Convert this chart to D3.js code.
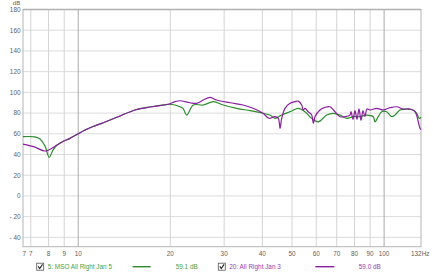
<!DOCTYPE html>
<meta charset="utf-8">
<head>
    <script src="https://cdn.jsdelivr.net/npm/d3@7"></script>
    <style>
        body { margin: 0; background: #fff; }
        text { font-family: "Liberation Sans", Arial, sans-serif; }
    </style>
</head>
<body>
<script>
    // Data
    const msoFreq = [6.6, 7.22, 7.5, 7.79, 8.04, 8.27, 8.53, 8.92, 9.4, 10.53, 10.93, 11.94, 13.52, 15.33, 17.39, 19.7,
        20.72, 21.52, 22.01, 22.63, 23.78, 25.64, 27.64, 29.8, 32.97, 36.45, 40.19, 42.36, 43.99, 46.26, 49.88,
        52.42, 55.13, 57.98, 60.93, 64.92, 68.22, 71.75, 75.46, 79.3, 83.4, 87.71, 92.17, 93.35, 95.7, 98.18,
        101.95, 105.86, 108.53, 112.69, 118.52, 124.56, 127.79, 130.31, 132];
    const msoDb = [57.2, 57.0, 54.9, 48.2, 37.3, 44.3, 49.2, 52.5, 55.6, 63.6, 65.9, 70.1, 76.5, 83.0, 86.1, 88.5,
        87.8, 86.1, 84.6, 78.1, 87.8, 87.8, 91.0, 87.8, 84.6, 82.3, 79.8, 78.1, 74.9, 78.1, 82.0,
        84.6, 81.3, 74.9, 71.6, 78.1, 79.8, 78.1, 74.9, 76.5, 76.5, 78.1, 76.5, 71.6, 76.5, 81.3,
        81.3, 76.5, 78.1, 83.0, 83.9, 83.0, 79.8, 74.9, 76.0];

    const jan3Freq = [6.6, 7.22, 7.79, 8.53, 8.92, 9.4, 10.53, 10.93, 11.94, 13.52, 15.33, 17.39, 19.7,
        20.72, 21.52, 23.2, 24.4, 25.64, 26.96, 28.36, 31.35, 34.58, 37.28, 40.19, 42.05, 43.99, 45.09, 45.68,
        46.26, 47.43, 49.25, 51.13, 52.42, 53.78, 54.43, 55.13, 56.51, 57.98, 58.68, 59.44, 61.71, 64.09,
        66.55, 69.1, 71.75, 74.5, 77.35, 77.94, 79.12, 80.32, 81.54, 82.77, 84.03, 85.3, 86.59, 87.9,
        89.91, 94.56, 99.37, 104.52, 109.92, 115.52, 121.51, 126.16, 129.34, 131.0, 132];
    const jan3Db = [50.1, 47.2, 43.4, 49.2, 52.5, 55.6, 63.6, 65.9, 70.1, 76.5, 83.0, 86.1, 88.5,
        91.0, 91.9, 90.0, 89.4, 92.6, 95.2, 92.6, 90.0, 87.8, 84.6, 79.8, 75.0, 76.5, 74.9, 65.3,
        74.9, 84.6, 89.4, 91.0, 91.6, 87.8, 83.0, 84.6, 81.3, 78.1, 70.1, 76.5, 83.0, 85.5,
        86.1, 81.3, 76.5, 76.5, 78.1, 81.5, 74.0, 82.5, 74.0, 84.0, 73.0, 82.5, 76.5, 84.0,
        83.0, 84.6, 83.0, 85.2, 86.1, 83.9, 83.9, 81.3, 71.6, 65.3, 64.0];

    const xTicks = [7, 8, 9, 10, 20, 30, 40, 50, 60, 70, 80, 90, 100];
    const xDecades = [10, 100];
    const yTicks = [-40, -20, 0, 20, 40, 60, 80, 100, 120, 140, 160, 180];

    const legendItems = [
        {name: "5: MSO All Right Jan 5", level: "59.1 dB", line: "#2c8c2c", text: "#45a045"},
        {name: "20: All Right Jan 3", level: "59.0 dB", line: "#8a1ea0", text: "#9a3aae"}
    ];

    const width = 433, height = 275;
    const plot = {left: 23, right: 421, top: 9.5, bottom: 246.7};

    const svg = d3.select("body").append("svg")
        .attr("width", width)
        .attr("height", height);

    const x = d3.scaleLog().domain([6.6, 132]).range([plot.left, plot.right]);
    const y = d3.scaleLinear().domain([-49, 180]).range([plot.bottom, plot.top]);

    // Grid
    svg.append("g").selectAll("line.h")
        .data(yTicks)
        .enter().append("line")
        .attr("x1", plot.left).attr("x2", plot.right)
        .attr("y1", d => y(d)).attr("y2", d => y(d))
        .attr("stroke", "#dcdcdc");

    svg.append("g").selectAll("line.v")
        .data(xTicks)
        .enter().append("line")
        .attr("x1", d => x(d)).attr("x2", d => x(d))
        .attr("y1", plot.top).attr("y2", plot.bottom)
        .attr("stroke", d => xDecades.includes(d) ? "#ababab" : "#d4d4d4");

    // Border
    svg.append("rect")
        .attr("x", plot.left).attr("y", plot.top)
        .attr("width", plot.right - plot.left).attr("height", plot.bottom - plot.top)
        .attr("fill", "none").attr("stroke", "#b4b4b4");
    svg.append("line")
        .attr("x1", plot.left).attr("x2", plot.right)
        .attr("y1", plot.top).attr("y2", plot.top)
        .attr("stroke", "#b0b0b0").attr("stroke-width", 1.6);

    // Axis labels
    const labelColor = "#606060";
    svg.append("g").selectAll("text")
        .data(yTicks)
        .enter().append("text")
        .attr("x", 20.5)
        .attr("y", d => y(d) + 2.3)
        .attr("text-anchor", "end")
        .attr("font-size", 6.4)
        .attr("fill", labelColor)
        .text(d => d < 0 ? "- " + (-d) : d);

    svg.append("text")
        .attr("x", 12.8).attr("y", 5.2)
        .attr("font-size", 6)
        .attr("fill", labelColor)
        .text("dB");

    svg.append("g").selectAll("text")
        .data(xTicks)
        .enter().append("text")
        .attr("x", d => x(d))
        .attr("y", 255.8)
        .attr("text-anchor", "middle")
        .attr("font-size", 6.4)
        .attr("fill", labelColor)
        .text(d => d);

    svg.append("text")
        .attr("x", 24.4).attr("y", 255.8)
        .attr("text-anchor", "middle")
        .attr("font-size", 6.4).attr("fill", labelColor)
        .text("7");

    svg.append("text")
        .attr("x", 411).attr("y", 255.8)
        .attr("font-size", 6.4).attr("fill", labelColor)
        .text("132Hz");

    // Traces
    const line = d3.line()
        .x(d => x(d[0]))
        .y(d => y(d[1]))
        .curve(d3.curveCatmullRom.alpha(0.5));

    const traces = [
        {freq: msoFreq, db: msoDb, color: legendItems[0].line},
        {freq: jan3Freq, db: jan3Db, color: legendItems[1].line}
    ];

    svg.append("g").selectAll("path")
        .data(traces)
        .enter().append("path")
        .attr("d", t => line(d3.zip(t.freq, t.db)))
        .attr("fill", "none")
        .attr("stroke", t => t.color)
        .attr("stroke-width", 1.2)
        .attr("stroke-linejoin", "round");

    // Legend
    const legendY = 266.7;
    const legendX = [36.7, 218.3];
    const offsets = [
        {text: 11, line1: 96, line2: 114, level: 139},
        {text: 11, line1: 97, line2: 116, level: 140.5}
    ];

    const legend = svg.append("g");
    legendItems.forEach((item, i) => {
        const lx = legendX[i], o = offsets[i];
        const g = legend.append("g").attr("transform", `translate(${lx}, ${legendY})`);
        g.append("rect")
            .attr("x", 0).attr("y", -3.5)
            .attr("width", 7).attr("height", 7)
            .attr("fill", "#fff").attr("stroke", "#555").attr("stroke-width", 0.8);
        g.append("path")
            .attr("d", "M1.5,-0.3 L3,1.8 L5.8,-2.3")
            .attr("fill", "none").attr("stroke", "#222").attr("stroke-width", 1.1);
        g.append("text")
            .attr("x", o.text).attr("y", 2.3)
            .attr("font-size", 6.4).attr("fill", item.text)
            .text(item.name);
        g.append("line")
            .attr("x1", o.line1).attr("x2", o.line2)
            .attr("y1", 0).attr("y2", 0)
            .attr("stroke", item.line).attr("stroke-width", 1.4);
        g.append("text")
            .attr("x", o.level).attr("y", 2.3)
            .attr("font-size", 6.4).attr("fill", item.text)
            .text(item.level);
    });
</script>
</body>
</html>
